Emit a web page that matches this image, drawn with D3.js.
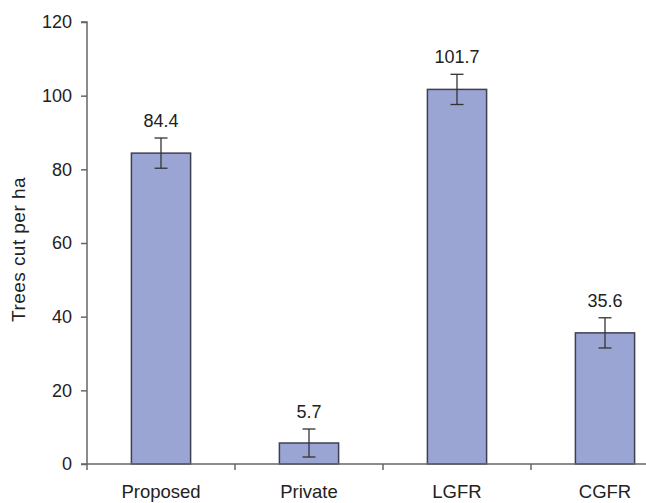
<!DOCTYPE html>
<html><head><meta charset="utf-8">
<script src="https://cdn.jsdelivr.net/npm/d3@7"></script>
<style>
html,body{margin:0;padding:0;background:#fff;}
svg{display:block;font-family:"Liberation Sans",Arial,sans-serif;}
</style></head>
<body>
<svg id="chart" width="646" height="503"></svg>
<script>
const categories = ["Proposed", "Private", "LGFR", "CGFR"];
const values = [84.4, 5.7, 101.7, 35.6];
const errors = [4.1, 3.8, 4.1, 4.1];
const labels = ["84.4", "5.7", "101.7", "35.6"];
const yTicks = [0, 20, 40, 60, 80, 100, 120];
const yTitle = "Trees cut per ha";

const svg = d3.select("#chart");
const x0 = 87, step = 148;
const x = d3.scaleBand().domain(categories)
  .range([x0, x0 + step * categories.length])
  .paddingInner(0.6).paddingOuter(0.3);
const y = d3.scaleLinear().domain([0, 120]).range([464, 22]);

const axisColor = "#666";
// bars
svg.selectAll("rect.bar").data(categories).join("rect")
  .attr("class", "bar")
  .attr("x", d => x(d))
  .attr("y", (d, i) => y(values[i]))
  .attr("width", x.bandwidth())
  .attr("height", (d, i) => y(0) - y(values[i]))
  .attr("fill", "#9ba5d4")
  .attr("stroke", "#3e4052")
  .attr("stroke-width", 1.5);

// error bars
const eg = svg.selectAll("g.err").data(categories).join("g").attr("class", "err")
  .attr("stroke", "#333").attr("stroke-width", 1.3);
const cx = d => x(d) + x.bandwidth() / 2;
eg.append("line").attr("x1", cx).attr("x2", cx)
  .attr("y1", (d, i) => y(values[i] + errors[i]))
  .attr("y2", (d, i) => y(values[i] - errors[i]));
eg.append("line").attr("x1", d => cx(d) - 6.5).attr("x2", d => cx(d) + 6.5)
  .attr("y1", (d, i) => y(values[i] + errors[i]))
  .attr("y2", (d, i) => y(values[i] + errors[i]));
eg.append("line").attr("x1", d => cx(d) - 6.5).attr("x2", d => cx(d) + 6.5)
  .attr("y1", (d, i) => y(values[i] - errors[i]))
  .attr("y2", (d, i) => y(values[i] - errors[i]));

// value labels
svg.selectAll("text.val").data(categories).join("text")
  .attr("class", "val")
  .attr("x", cx)
  .attr("y", (d, i) => y(values[i] + errors[i]) - 11)
  .attr("text-anchor", "middle")
  .attr("font-size", 18)
  .attr("fill", "#222")
  .text((d, i) => labels[i]);

// y axis
const yAxis = svg.append("g").attr("transform", `translate(${x0},0)`)
  .call(d3.axisLeft(y).tickValues(yTicks).tickSize(6).tickPadding(9));
yAxis.select(".domain").attr("stroke", axisColor).attr("stroke-width", 1.5).attr("d", `M-6,${y(120)}H0V${y(0)}`);
yAxis.selectAll(".tick line").attr("stroke", axisColor).attr("stroke-width", 1.5);
yAxis.selectAll(".tick text").attr("font-size", 18).attr("fill", "#222")
  .attr("font-family", "Liberation Sans, Arial, sans-serif");

// x axis
const xg = svg.append("g");
xg.append("line").attr("x1", x0 - 6).attr("x2", x0 + step * categories.length)
  .attr("y1", y(0)).attr("y2", y(0)).attr("stroke", axisColor).attr("stroke-width", 1.5);
xg.selectAll("line.tk").data(d3.range(categories.length + 1)).join("line")
  .attr("class", "tk")
  .attr("x1", i => x0 + i * x.step()).attr("x2", i => x0 + i * x.step())
  .attr("y1", y(0)).attr("y2", y(0) + 6)
  .attr("stroke", axisColor).attr("stroke-width", 1.5);
xg.selectAll("text").data(categories).join("text")
  .attr("x", cx).attr("y", 498)
  .attr("text-anchor", "middle").attr("font-size", 18.5).attr("fill", "#222")
  .text(d => d);

// y title
svg.append("text")
  .attr("transform", `translate(25,249.5) rotate(-90)`)
  .attr("text-anchor", "middle").attr("font-size", 19).attr("letter-spacing", 0.45).attr("fill", "#222")
  .text(yTitle);
</script>
</body></html>
